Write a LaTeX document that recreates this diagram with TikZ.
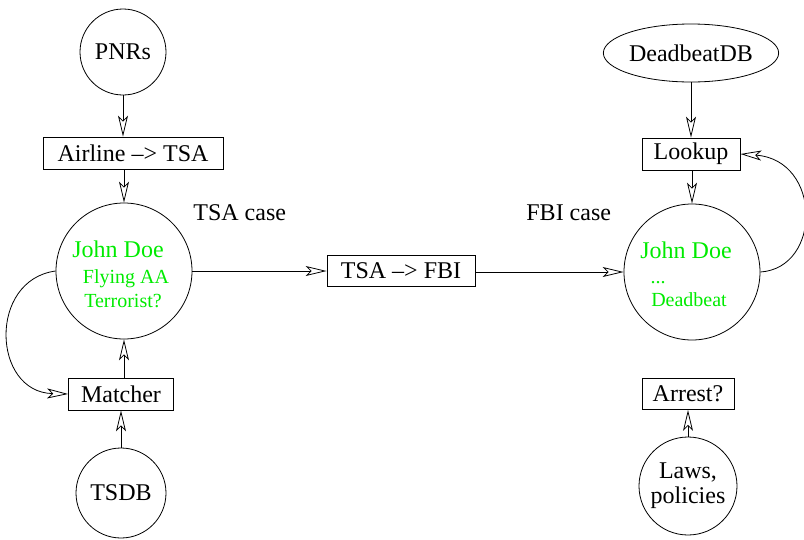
\documentclass[tikz,border=0pt]{standalone}
\usepackage{fontspec}
\setmainfont{Liberation Serif}
\usetikzlibrary{arrows.meta,shapes.geometric}
\definecolor{figgreen}{RGB}{0,235,0}
\begin{document}
\begin{tikzpicture}[x=1pt,y=-1pt,
  line width=0.8pt,
  tip/.style={-{Stealth[open,length=21pt,width=10pt,inset=5pt,line width=0.8pt]}},
  lbl/.style={font=\rmfamily\fontsize{24}{25}\selectfont},
  note/.style={font=\rmfamily\fontsize{20}{22}\selectfont, text=figgreen, inner sep=0pt},
  big/.style={font=\rmfamily\fontsize{24}{25}\selectfont},
  disc/.style={circle, draw, inner sep=0pt, lbl, align=center},
  stepbox/.style={rectangle, draw, inner sep=0pt, lbl, minimum height=32pt},
  caption/.style={lbl, inner sep=0pt, anchor=base west}
]
\useasboundingbox (0,0) rectangle (804,539);

% left column: TSA side
\node[disc, minimum size=86pt] (pnr) at (123,52) {PNRs};
\node[stepbox, minimum width=180pt] (airline) at (133,153) {Airline \textendash{}> TSA};
\node[disc, minimum size=136pt] (jd) at (124,271) {};
\node[note, big, anchor=base] (jdname) at (118,257) {John Doe};
\node[note, anchor=base] (jdfly) at (126,283) {Flying AA};
\node[note, anchor=base] (jdterr) at (123,307) {Terrorist?};
\node[stepbox, minimum width=105pt] (matcher) at (121,394) {Matcher};
\node[disc, minimum size=90pt] (tsdb) at (121,493) {TSDB};

% middle: hand-over
\node[caption] (tsacase) at (193,220) {TSA case};
\node[caption] (fbicase) at (526,220) {FBI case};
\node[stepbox, minimum width=148pt, minimum height=31pt] (fwd) at (401,270.5) {TSA \textendash{}> FBI};

% right column: FBI side
\node[ellipse, draw, inner sep=0pt, lbl, minimum width=174pt, minimum height=58pt] (ddb) at (691,53) {DeadbeatDB};
\node[stepbox, minimum width=98pt] (lookup) at (691,154) {Lookup};
\node[disc, minimum size=136pt] (jd2) at (692,272) {};
\node[note, big, anchor=base] (jd2name) at (686,258) {John Doe};
\node[note, anchor=base] (jd2dots) at (658,283) {...};
\node[note, anchor=base] (jd2dead) at (689,306) {Deadbeat};
\node[stepbox, minimum width=92pt, minimum height=31pt] (arrest) at (688,394) {Arrest?};
\node[disc, minimum size=98pt] (laws) at (688,486) {Laws,\\policies};

% connectors, left
\draw[tip] (pnr.south) -- (pnr.south |- airline.north);
\draw[tip] (jd.north |- airline.south) -- (jd.north);
\draw[tip] (jd.south |- matcher.north) -- (jd.south);
\draw[tip] (tsdb.north) -- (tsdb.north |- matcher.south);
\draw[tip] (jd.west) .. controls (-12,280) and (-8,392) .. (matcher.west);

% connectors, middle
\draw[tip] (jd.east) -- (fwd.west |- jd.east);
\draw[tip] (fwd.east |- jd2.west) -- (jd2.west);

% connectors, right
\draw[tip] (ddb.south) -- (ddb.south |- lookup.north);
\draw[tip] (jd2.north |- lookup.south) -- (jd2.north);
\draw[tip] (jd2.east) .. controls (822,268) and (822,160) .. (lookup.east);
\draw[tip] (laws.north) -- (laws.north |- arrest.south);
\end{tikzpicture}
\end{document}
